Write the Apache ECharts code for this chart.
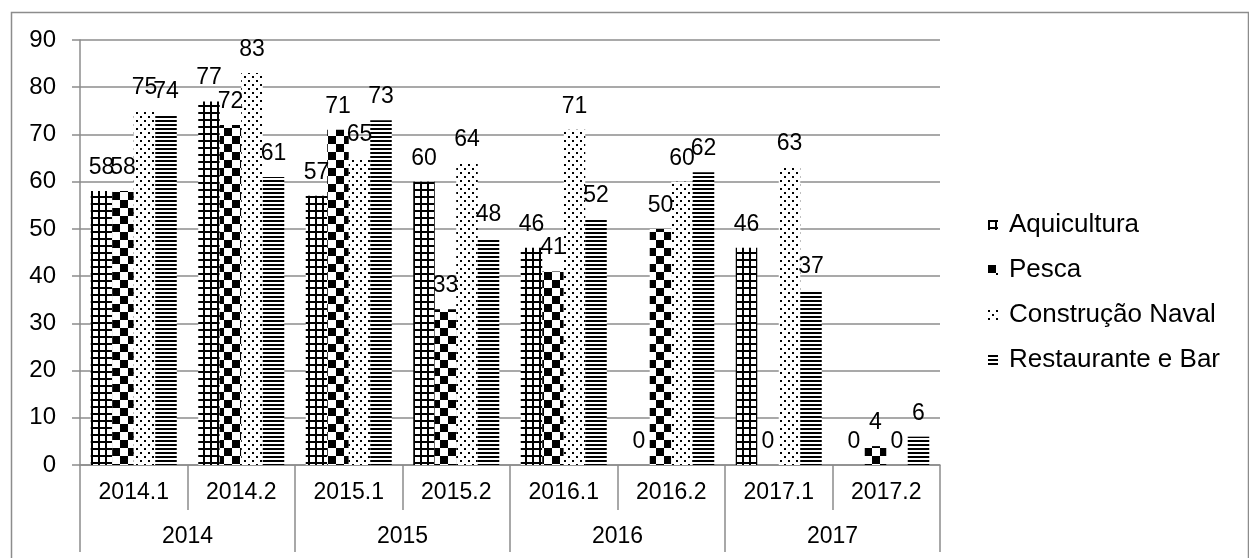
<!DOCTYPE html>
<html>
<head>
<meta charset="utf-8">
<script src="https://cdn.jsdelivr.net/npm/echarts@6/dist/echarts.min.js"></script>
<style>
  html, body { margin: 0; padding: 0; background: #fff; }
  #chart { width: 1249px; height: 558px; }
</style>
</head>
<body>
<div id="chart"></div>
<script>
// Semester categories and their year groups
const semesters = ['2014.1', '2014.2', '2015.1', '2015.2', '2016.1', '2016.2', '2017.1', '2017.2'];
const years = ['2014', '2015', '2016', '2017'];

// Values per activity
const aquicultura = [58, 77, 57, 60, 46, 0, 46, 0];
const pesca = [58, 72, 71, 33, 41, 50, 0, 4];
const construcaoNaval = [75, 83, 65, 64, 71, 60, 63, 0];
const restauranteBar = [74, 61, 73, 48, 52, 62, 37, 6];

const yTicks = { min: 0, max: 90, interval: 10 };

// Monochrome fill patterns
function makeTile(w, h, draw) {
  const c = document.createElement('canvas');
  c.width = w; c.height = h;
  const ctx = c.getContext('2d');
  ctx.fillStyle = '#fff';
  ctx.fillRect(0, 0, w, h);
  ctx.fillStyle = '#000';
  draw(ctx);
  return { image: c, repeat: 'repeat' };
}
const gridFill = makeTile(7, 7, ctx => {
  ctx.fillRect(0, 0, 7, 2);
  ctx.fillRect(0, 0, 2, 7);
});
const checkerFill = makeTile(16, 16, ctx => {
  ctx.fillRect(0, 0, 8, 8);
  ctx.fillRect(8, 8, 8, 8);
});
const dotFill = makeTile(8, 8, ctx => {
  ctx.fillRect(0, 0, 2, 2);
  ctx.fillRect(4, 4, 2, 2);
});
const stripeFill = makeTile(4, 4, ctx => {
  ctx.fillRect(0, 0, 4, 2);
});

const FONT = '"Liberation Sans", Arial, sans-serif';
const GRAY = '#8c8c8c';

function barSeries(name, data, fill) {
  return {
    name, type: 'bar', data,
    barGap: '0%', barCategoryGap: '20%',
    itemStyle: { color: fill },
    label: {
      show: true, position: 'top', distance: 12,
      color: '#000', fontFamily: FONT, fontSize: 23
    },
    emphasis: { disabled: true }
  };
}

const chart = echarts.init(document.getElementById('chart'), null, { renderer: 'canvas' });
chart.setOption({
  backgroundColor: '#fff',
  animation: false,
  textStyle: { fontFamily: FONT, color: '#000' },
  graphic: [{
    type: 'rect', left: 9, top: 10, z: -10,
    shape: { width: 1237, height: 560 },
    style: { fill: 'none', stroke: GRAY, lineWidth: 1.5 }
  }],
  grid: { left: 80, top: 40, right: 309, bottom: 93, containLabel: false },
  legend: {
    orient: 'vertical', left: 983, top: 207,
    itemWidth: 10, itemHeight: 10, itemGap: 19,
    icon: 'rect',
    textStyle: { fontFamily: FONT, fontSize: 26, color: '#000', padding: [0, 0, 0, 6] },
    data: ['Aquicultura', 'Pesca', 'Construção Naval', 'Restaurante e Bar']
  },
  xAxis: [{
    type: 'category', data: semesters, position: 'bottom',
    axisLine: { lineStyle: { color: GRAY, width: 1.5 } },
    axisTick: { show: true, interval: 0, length: 45, lineStyle: { color: GRAY, width: 1.5 } },
    axisLabel: { interval: 0, margin: 16, color: '#000', fontFamily: FONT, fontSize: 23 }
  }, {
    type: 'category', data: years, position: 'bottom', offset: 45,
    axisLine: { show: false },
    axisTick: { show: true, interval: 0, length: 42, lineStyle: { color: GRAY, width: 1.5 } },
    axisLabel: { interval: 0, margin: 15, color: '#000', fontFamily: FONT, fontSize: 23 }
  }],
  yAxis: {
    type: 'value', min: yTicks.min, max: yTicks.max, interval: yTicks.interval,
    axisLine: { show: true, lineStyle: { color: GRAY, width: 1.5 } },
    axisTick: { show: true, length: 8, lineStyle: { color: GRAY, width: 1.5 } },
    splitLine: { lineStyle: { color: GRAY, width: 1.5 } },
    axisLabel: { margin: 24, color: '#000', fontFamily: FONT, fontSize: 24 }
  },
  series: [
    barSeries('Aquicultura', aquicultura, gridFill),
    barSeries('Pesca', pesca, checkerFill),
    barSeries('Construção Naval', construcaoNaval, dotFill),
    barSeries('Restaurante e Bar', restauranteBar, stripeFill)
  ]
});
</script>
</body>
</html>
